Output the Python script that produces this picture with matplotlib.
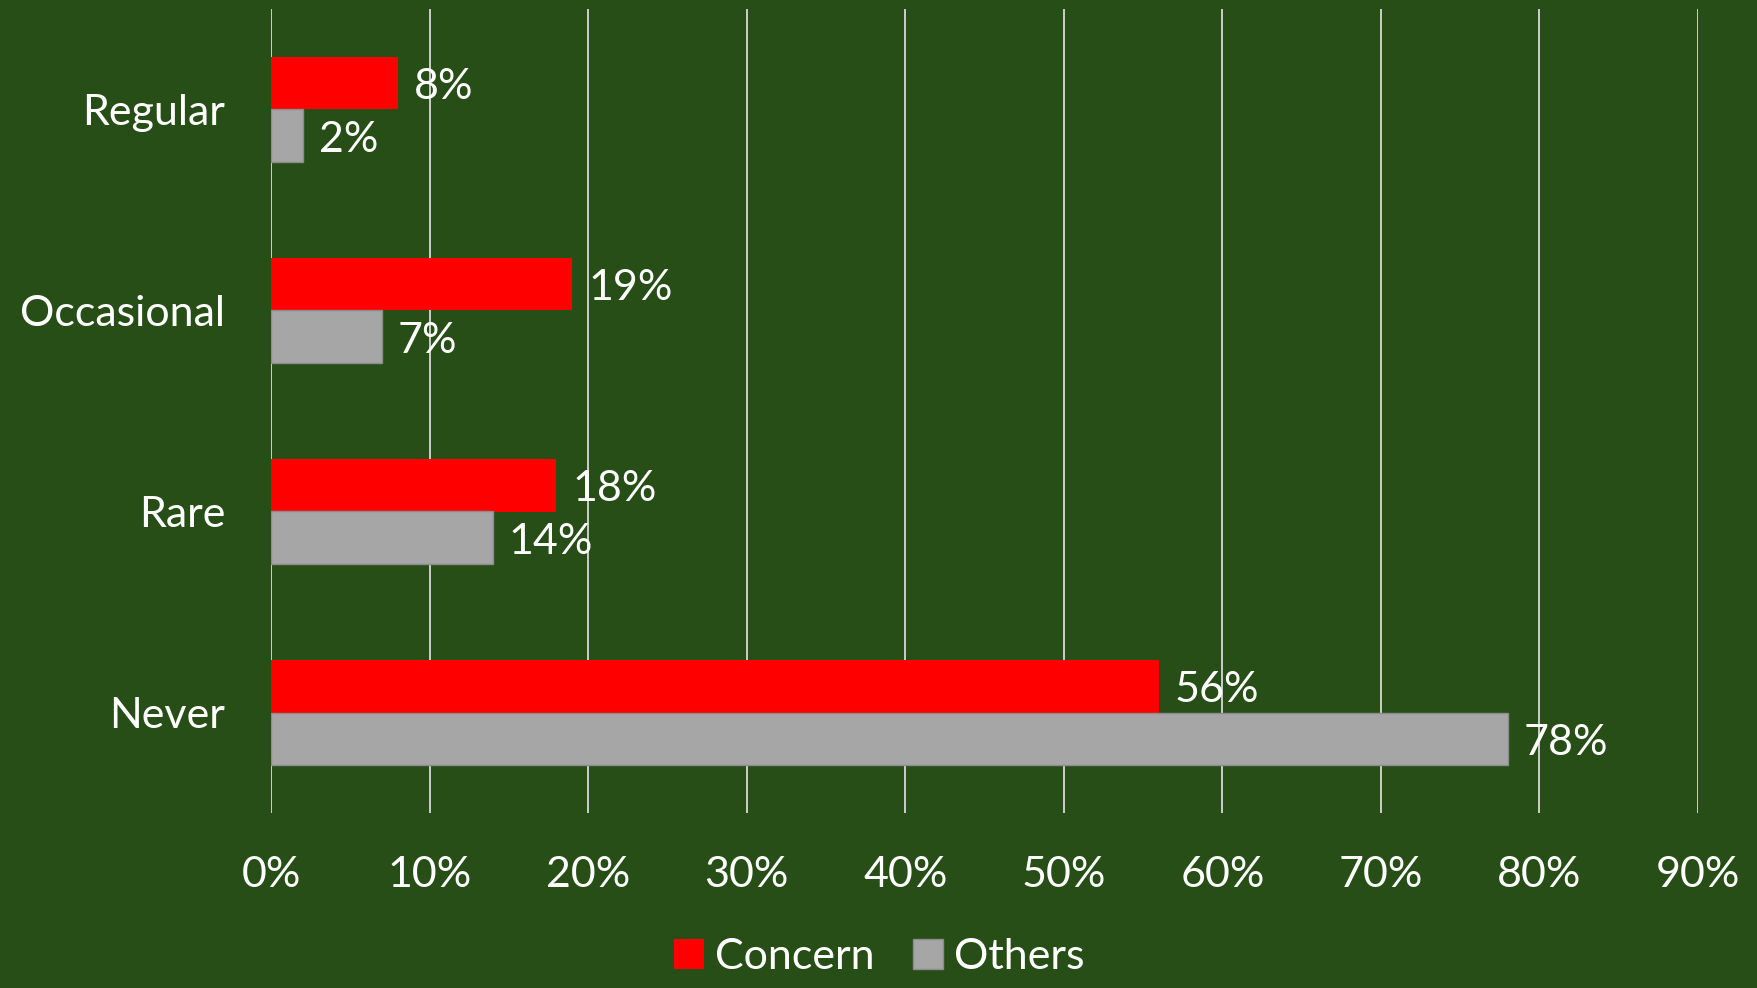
import numpy as np
import matplotlib
matplotlib.use('Agg')
from matplotlib import pyplot as plt
from matplotlib.ticker import MultipleLocator, FuncFormatter

plt.rcParams['font.family'] = ['Lato', 'DejaVu Sans']

categories = ['Regular', 'Occasional', 'Rare', 'Never']
concern = [8, 19, 18, 56]
others = [2, 7, 14, 78]
series_names = ['Concern', 'Others']

bg = '#274E16'
red = '#FF0000'
grey = '#A6A6A6'
fs = 31

fig = plt.figure(figsize=(17.58, 9.88), dpi=100, facecolor=bg)
ax = fig.add_axes([271 / 1758, 1 - 813 / 988, (1698 - 271) / 1758, (813 - 9) / 988])
ax.set_facecolor(bg)

ypos = np.arange(len(categories))
h = 0.26
b1 = ax.barh(ypos - h / 2, concern, height=h, color=red, label=series_names[0], zorder=3)
b2 = ax.barh(ypos + h / 2, others, height=h, color=grey, edgecolor='#8C8C8C', linewidth=1,
             label=series_names[1], zorder=3)

# value labels just past the end of each bar
for bars, vals in ((b1, concern), (b2, others)):
    for bar, v in zip(bars, vals):
        ax.text(v + 1.0, bar.get_y() + bar.get_height() / 2 + 0.02, f'{v}%', color='white',
                fontsize=fs, va='center', ha='left', zorder=4)

ax.set_xlim(0, 90)
ax.set_ylim(3.5, -0.5)
ax.xaxis.set_major_locator(MultipleLocator(10))
ax.xaxis.set_major_formatter(FuncFormatter(lambda x, p: f'{x:.0f}%'))
ax.set_yticks(ypos)
ax.set_yticklabels(categories)
ax.tick_params(axis='both', length=0, colors='white', labelsize=fs)
ax.tick_params(axis='x', pad=31)
ax.tick_params(axis='y', pad=33)
ax.grid(axis='x', color='#D9D9D9', linewidth=1.3, zorder=0)
for s in ax.spines.values():
    s.set_visible(False)

leg = fig.legend(handles=[b1, b2], loc='center', bbox_to_anchor=(0.5, 1 - 957 / 988), ncol=2,
                 frameon=False, fontsize=fs, labelcolor='white', handlelength=0.7,
                 handleheight=0.7, handletextpad=0.25, columnspacing=0.9)

plt.savefig('out.png', dpi=100, facecolor=bg)
